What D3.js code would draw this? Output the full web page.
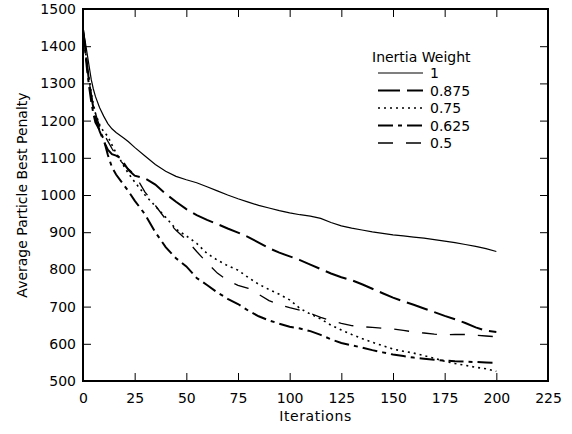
<!DOCTYPE html>
<html>
<head>
<meta charset="utf-8">
<script src="https://cdn.jsdelivr.net/npm/d3@7"></script>
<style>
  body { margin: 0; background: #fff; }
  text { font-family: "DejaVu Sans", Verdana, sans-serif; fill: #000; }
</style>
</head>
<body>
<div id="chart"></div>
<script>
// iterations
const iters = [0,1,2,3,4,5,6,8,10,12,14,16,18,20,22,25,30,35,40,45,50,55,60,65,70,75,80,85,90,95,100,
  105,110,115,120,125,130,135,140,145,150,155,160,165,170,175,180,185,190,195,200];

const w100 = [1445,1415,1380,1345,1310,1285,1265,1235,1212,1192,1178,1168,1160,1152,1143,1128,1105,1082,1064,1050,1041,
  1033,1022,1011,1000,990,981,972,965,958,952,947,943,937,926,917,911,906,901,897,893,890,887,884,880,876,872,867,862,856,848];
const w0875 = [1445,1400,1350,1300,1265,1235,1210,1172,1145,1122,1110,1106,1100,1084,1067,1052,1045,1028,1003,982,962,
  946,933,922,910,899,887,872,857,845,835,825,813,801,789,779,771,760,748,736,724,714,705,695,685,675,666,656,644,635,632];
const w075 = [1445,1395,1350,1310,1275,1245,1220,1190,1170,1158,1135,1113,1095,1075,1058,1035,1000,970,940,908,890,
  870,843,825,810,798,778,760,746,733,718,695,680,667,650,637,625,614,604,595,586,580,575,568,561,553,547,542,537,533,526];
const w0625 = [1445,1390,1335,1290,1250,1220,1195,1175,1150,1108,1075,1055,1040,1025,1010,985,948,900,860,830,808,
  777,758,738,721,707,689,674,663,654,646,641,634,624,612,602,596,590,583,577,571,567,563,560,557,555,553,552,551,550,549];
const w05 = [1445,1395,1345,1305,1270,1240,1220,1185,1165,1145,1125,1107,1093,1080,1070,1055,1008,972,935,905,880,
  848,818,790,770,757,749,733,716,705,697,690,682,671,662,655,649,646,644,642,640,636,632,629,626,624,625,625,623,621,619];

const seriesNames = ["1", "0.875", "0.75", "0.625", "0.5"];
const seriesValues = [w100, w0875, w075, w0625, w05];
const seriesDash = ["none", "22,7", "2,4", "15,5,4,5", "15,13"];
const seriesWidth = [1.2, 2, 1.6, 2, 1.3];

const xTicks = d3.range(0, 226, 25);
const yTicks = d3.range(500, 1501, 100);

const W = 572, H = 434;
const margin = {left: 83, right: 24, top: 9, bottom: 53};
const iw = W - margin.left - margin.right, ih = H - margin.top - margin.bottom;

const svg = d3.select("#chart").append("svg").attr("width", W).attr("height", H);
const g = svg.append("g").attr("transform", `translate(${margin.left},${margin.top})`);

const x = d3.scaleLinear().domain([0, 225]).range([0, iw]);
const y = d3.scaleLinear().domain([500, 1500]).range([ih, 0]);

// axes, ticks pointing inward
const fs = "14px";
const gx = g.append("g").attr("transform", `translate(0,${ih})`)
  .call(d3.axisBottom(x).tickValues(xTicks).tickFormat(d3.format("d")).tickSize(-8).tickPadding(12).tickSizeOuter(0));
const gy = g.append("g")
  .call(d3.axisLeft(y).tickValues(yTicks).tickFormat(d3.format("d")).tickSize(-8).tickPadding(7).tickSizeOuter(0));
const gt = g.append("g")
  .call(d3.axisTop(x).tickValues(xTicks).tickSize(-8).tickFormat("").tickSizeOuter(0));
const gr = g.append("g").attr("transform", `translate(${iw},0)`)
  .call(d3.axisRight(y).tickValues(yTicks).tickSize(-8).tickFormat("").tickSizeOuter(0));
[gx, gy, gt, gr].forEach(a => {
  a.select(".domain").remove();
  a.selectAll(".tick line").attr("stroke", "#000").attr("stroke-width", 1);
  a.selectAll("text").style("font-size", fs).style("font-family", "DejaVu Sans");
});

g.append("rect").attr("width", iw).attr("height", ih)
  .attr("fill", "none").attr("stroke", "#000").attr("stroke-width", 2);

// lines
const line = d3.line().x((d, i) => x(iters[i])).y(d => y(d));
seriesValues.forEach((vals, k) => {
  g.append("path").datum(vals)
    .attr("d", line)
    .attr("fill", "none")
    .attr("stroke", "#000")
    .attr("stroke-width", seriesWidth[k])
    .attr("stroke-dasharray", seriesDash[k] === "none" ? null : seriesDash[k]);
});

// axis titles
svg.append("text").attr("x", margin.left + iw / 2).attr("y", 421)
  .attr("text-anchor", "middle").style("font-size", fs).style("letter-spacing", "0.6px").text("Iterations");
svg.append("text")
  .attr("transform", `translate(27,${margin.top + ih / 2}) rotate(-90)`)
  .attr("text-anchor", "middle").style("font-size", fs).text("Average Particle Best Penalty");

// legend
const leg = svg.append("g");
leg.append("text").attr("x", 372).attr("y", 62).style("font-size", fs).text("Inertia Weight");
seriesNames.forEach((name, k) => {
  const ly = 73 + k * 17.5;
  leg.append("line").attr("x1", 378).attr("x2", 423).attr("y1", ly).attr("y2", ly)
    .attr("stroke", "#000").attr("stroke-width", seriesWidth[k])
    .attr("stroke-dasharray", seriesDash[k] === "none" ? null : seriesDash[k]);
  leg.append("text").attr("x", 430).attr("y", ly + 5).style("font-size", fs).text(name);
});
</script>
</body>
</html>
